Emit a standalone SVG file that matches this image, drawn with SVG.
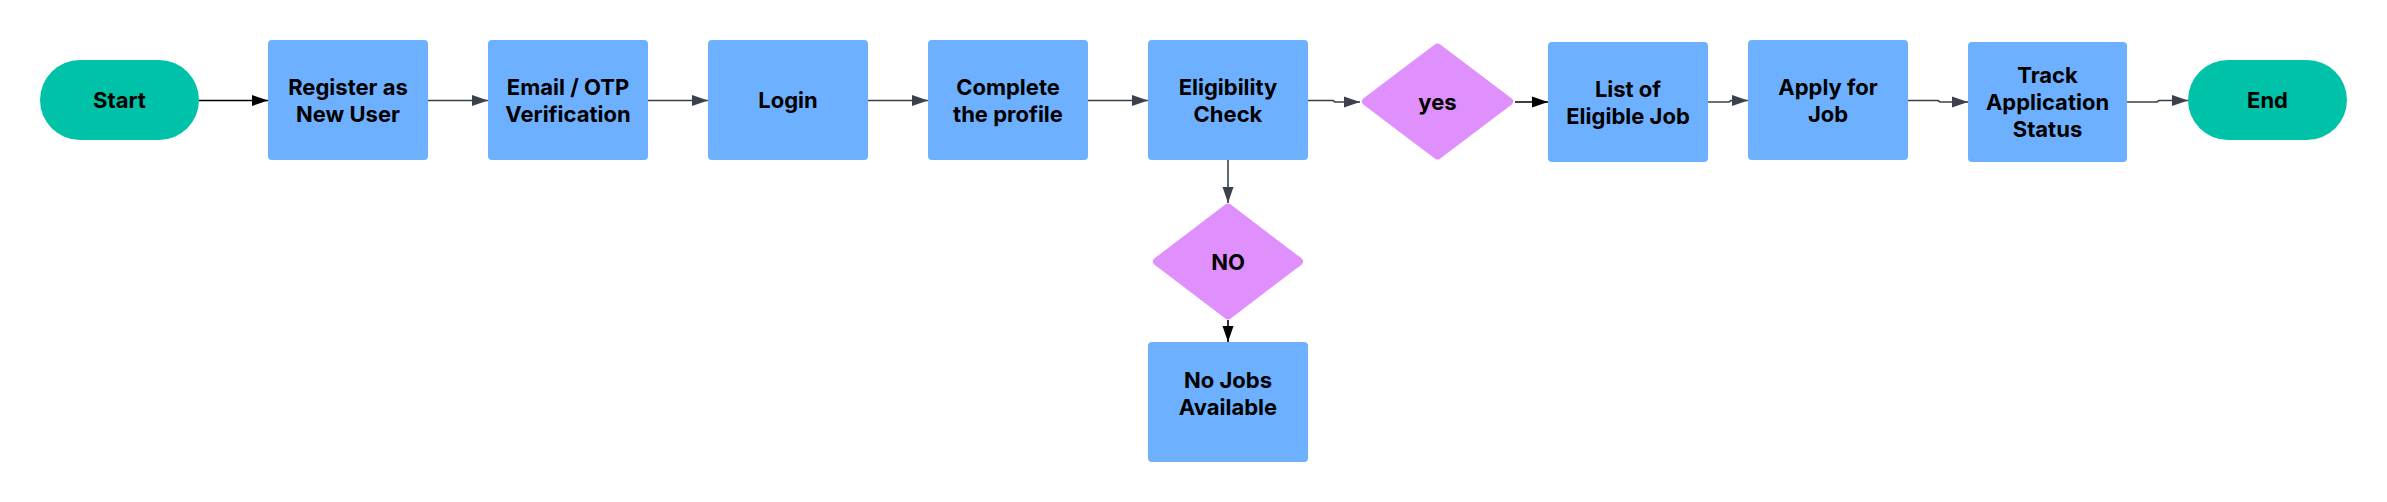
<svg xmlns="http://www.w3.org/2000/svg" width="2387" height="502" viewBox="0 0 2387 502">
<style>
.pill{fill:#00C2A8}
.box{fill:#6CB0FF}
.dia{fill:#E090FC;stroke:#E090FC;stroke-width:8;stroke-linejoin:round}
.t{font-family:Inter,"Liberation Sans",sans-serif;font-weight:700;font-size:22px;fill:#000;text-anchor:middle}
.c{fill:none;stroke:#3B414B;stroke-width:1.6}
.cb{fill:none;stroke:#000;stroke-width:1.6}
</style>
<defs>
<marker id="ag" markerWidth="16" markerHeight="12" refX="16" refY="6" orient="auto" markerUnits="userSpaceOnUse"><path d="M0,0.5 L16,6 L0,11.5 Z" fill="#3B414B"/></marker>
<marker id="ab" markerWidth="16" markerHeight="12" refX="16" refY="6" orient="auto" markerUnits="userSpaceOnUse"><path d="M0,0.5 L16,6 L0,11.5 Z" fill="#000"/></marker>
</defs>
<rect width="2387" height="502" fill="#fff"/>
<g id="connectors">
<path class="cb" d="M199,100.5 H268" marker-end="url(#ab)"/>
<path class="c" d="M428,100.5 H488" marker-end="url(#ag)"/>
<path class="c" d="M648,100.5 H708" marker-end="url(#ag)"/>
<path class="c" d="M868,100.5 H928" marker-end="url(#ag)"/>
<path class="c" d="M1088,100.5 H1148" marker-end="url(#ag)"/>
<path class="c" d="M1308,100.5 H1333 L1335,102 H1360" marker-end="url(#ag)"/>
<path class="cb" d="M1515,102 H1548" marker-end="url(#ab)"/>
<path class="c" d="M1708,102 H1729 L1731,100.5 H1748" marker-end="url(#ag)"/>
<path class="c" d="M1908,100.5 H1938 L1940,102 H1968" marker-end="url(#ag)"/>
<path class="c" d="M2127,102 H2157 L2159,100.5 H2188" marker-end="url(#ag)"/>
<path class="c" d="M1228,160 V203" marker-end="url(#ag)"/>
<path class="cb" d="M1228,320 V342" marker-end="url(#ab)"/>
</g>
<g id="start"><rect class="pill" x="40" y="60" width="159" height="80" rx="40"/><text class="t" x="119.5" y="108">Start</text></g>
<g id="register"><rect class="box" x="268" y="40" width="160" height="120" rx="4"/><text class="t" x="348" y="94.5">Register as</text><text class="t" x="348" y="121.5">New User</text></g>
<g id="email"><rect class="box" x="488" y="40" width="160" height="120" rx="4"/><text class="t" x="568" y="94.5">Email / OTP</text><text class="t" x="568" y="121.5">Verification</text></g>
<g id="login"><rect class="box" x="708" y="40" width="160" height="120" rx="4"/><text class="t" x="788" y="108">Login</text></g>
<g id="complete"><rect class="box" x="928" y="40" width="160" height="120" rx="4"/><text class="t" x="1008" y="94.5">Complete</text><text class="t" x="1008" y="121.5">the profile</text></g>
<g id="eligibility"><rect class="box" x="1148" y="40" width="160" height="120" rx="4"/><text class="t" x="1228" y="94.5">Eligibility</text><text class="t" x="1228" y="121.5">Check</text></g>
<g id="yes"><polygon class="dia" points="1366,101.5 1437.5,47.5 1509,101.5 1437.5,155.5"/><text class="t" x="1437.5" y="109.5">yes</text></g>
<g id="list"><rect class="box" x="1548" y="42" width="160" height="120" rx="4"/><text class="t" x="1628" y="96.5">List of</text><text class="t" x="1628" y="123.5">Eligible Job</text></g>
<g id="apply"><rect class="box" x="1748" y="40" width="160" height="120" rx="4"/><text class="t" x="1828" y="94.5">Apply for</text><text class="t" x="1828" y="121.5">Job</text></g>
<g id="track"><rect class="box" x="1968" y="42" width="159" height="120" rx="4"/><text class="t" x="2047.5" y="83">Track</text><text class="t" x="2047.5" y="110">Application</text><text class="t" x="2047.5" y="137">Status</text></g>
<g id="end"><rect class="pill" x="2188" y="60" width="159" height="80" rx="40"/><text class="t" x="2267.5" y="108">End</text></g>
<g id="no"><polygon class="dia" points="1157,261.5 1228,207.5 1299,261.5 1228,315.5"/><text class="t" x="1228" y="269.5">NO</text></g>
<g id="nojobs"><rect class="box" x="1148" y="342" width="160" height="120" rx="4"/><text class="t" x="1228" y="388">No Jobs</text><text class="t" x="1228" y="415">Available</text></g>
</svg>
